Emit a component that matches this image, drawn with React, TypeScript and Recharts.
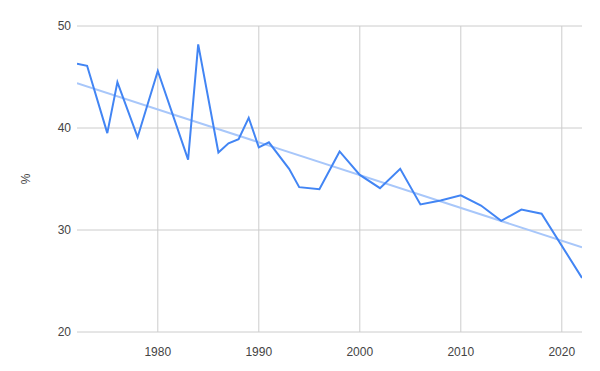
import { LineChart, Line, XAxis, YAxis, CartesianGrid } from 'recharts';

const years = [
    1972, 1973, 1975, 1976, 1978, 1980, 1983, 1984, 1986, 1987, 1988, 1989, 1990, 1991, 1993, 1994,
    1996, 1998, 2000, 2002, 2004, 2006, 2008, 2010, 2012, 2014, 2016, 2018, 2022,
];
const shares = [
    46.3, 46.1, 39.5, 44.5, 39.1, 45.6, 36.9, 48.2, 37.6, 38.5, 38.9, 41.0, 38.1, 38.6, 36.0, 34.2,
    34.0, 37.7, 35.4, 34.1, 36.0, 32.5, 32.9, 33.4, 32.4, 30.9, 32.0, 31.6, 25.3,
];
const trendYears = [1972, 2022];
const trendValues = [44.4, 28.3];
const xTicks = [1980, 1990, 2000, 2010, 2020];
const yTicks = [20, 30, 40, 50];

const data = years.map((year, i) => ({ year, value: shares[i] }));
const trend = trendYears.map((year, i) => ({ year, trend: trendValues[i] }));

const tickStyle = { fill: '#444', fontSize: 12, fontFamily: '"Liberation Sans", Arial, sans-serif' };

export default function App() {
    return (
        <div style={{ position: 'absolute', left: 0, top: 0, width: 600, height: 371, background: '#fff' }}>
            <LineChart width={600} height={371} margin={{ top: 26, right: 18, bottom: 0, left: 0 }}>
                <CartesianGrid stroke="#ccc" verticalValues={xTicks} horizontalValues={yTicks} />
                <XAxis
                    dataKey="year"
                    type="number"
                    domain={[1972, 2022]}
                    ticks={xTicks}
                    allowDataOverflow
                    axisLine={false}
                    tickLine={false}
                    tickMargin={9}
                    height={39}
                    tick={tickStyle}
                />
                <YAxis
                    domain={[20, 50]}
                    ticks={yTicks}
                    axisLine={false}
                    tickLine={false}
                    tickMargin={0}
                    width={77}
                    tick={tickStyle}
                    label={{ value: '%', angle: -90, position: 'center', dx: -13, style: tickStyle }}
                />
                <Line
                    data={trend}
                    dataKey="trend"
                    type="linear"
                    stroke="#a8c7fa"
                    strokeWidth={2}
                    dot={false}
                    isAnimationActive={false}
                />
                <Line
                    data={data}
                    dataKey="value"
                    type="linear"
                    stroke="#4285f4"
                    strokeWidth={2}
                    dot={false}
                    isAnimationActive={false}
                />
            </LineChart>
        </div>
    );
}
